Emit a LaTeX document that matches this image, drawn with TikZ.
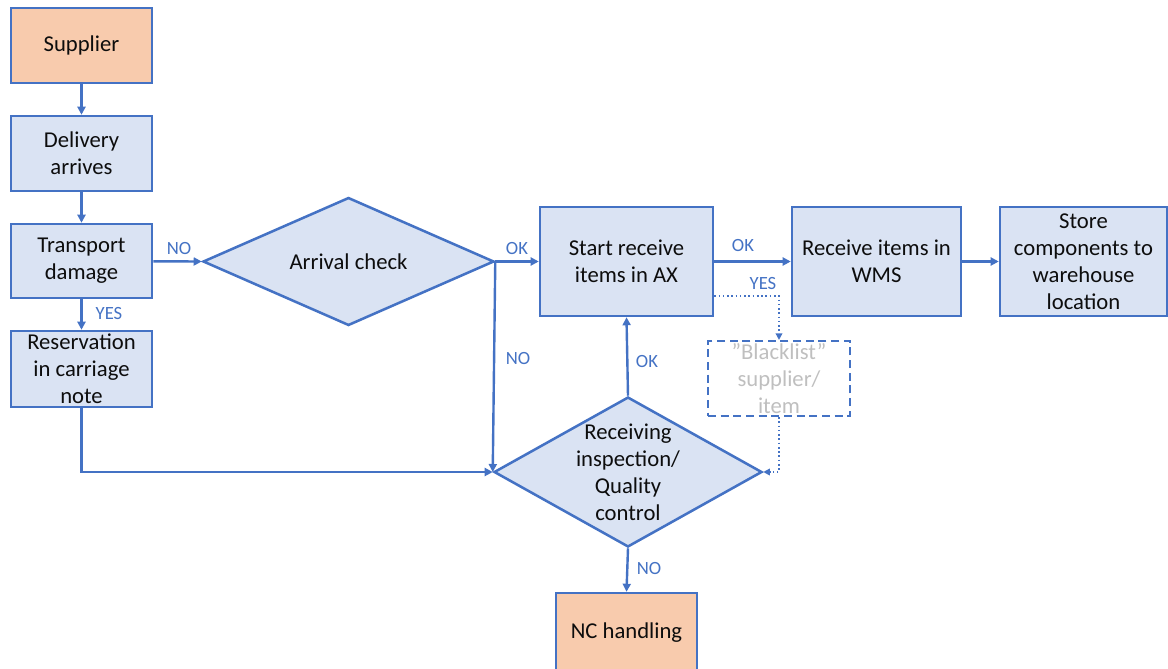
\documentclass[tikz,border=0pt]{standalone}
\usepackage{fontspec}
\setmainfont{Carlito}
\usetikzlibrary{arrows.meta,shapes.geometric}
\definecolor{lineblue}{HTML}{4472C4}
\definecolor{boxfill}{HTML}{DAE3F3}
\definecolor{peach}{HTML}{F8CBAD}
\definecolor{greytext}{HTML}{BFBFBF}
\definecolor{ink}{HTML}{0D0D0D}
\tikzset{
  x=0.75pt, y=-0.75pt,
  boxtext/.style={font=\fontsize{17}{20.25}\selectfont, text=ink, align=center, inner sep=0pt},
  stepbox/.style={draw=lineblue, line width=1.9pt, fill=boxfill, boxtext},
  endbox/.style={stepbox, fill=peach},
  ghostbox/.style={draw=lineblue, line width=1.6pt, dash pattern=on 6pt off 3.5pt, boxtext, text=greytext},
  decision/.style={shape=diamond, draw=lineblue, line width=1.9pt, fill=boxfill, inner sep=0pt},
  flow/.style={draw=lineblue, line width=1.8pt, -{Triangle[length=6pt,width=6pt]}},
  weakflow/.style={draw=lineblue, line width=1.2pt, dotted, -{Triangle[length=5pt,width=5pt]}},
  lbl/.style={font=\fontsize{14}{16}\selectfont, text=lineblue, inner sep=0pt},
}
\begin{document}
\begin{tikzpicture}
\useasboundingbox (0,0) rectangle (1168,668);
\clip (0,0) rectangle (1168,668);

% left column
\node[endbox,  minimum width=105.75pt, minimum height=56.25pt] (sup) at (81.5,45.5) {Supplier};
\node[stepbox, minimum width=105.75pt, minimum height=56.25pt] (del) at (81.5,153.5) {Delivery\\arrives};
\node[stepbox, minimum width=105.75pt, minimum height=55.5pt]  (tra) at (81.5,261) {Transport\\damage};
\node[stepbox, minimum width=105.75pt, minimum height=57pt]    (res) at (81.5,369) {Reservation\\in carriage\\note};

% decisions
\node[decision, minimum width=218.25pt, minimum height=96pt] (ac) at (348.5,261.5) {};
\node[boxtext] (actext) at (ac) {Arrival check};
\node[decision, minimum width=201pt, minimum height=112.5pt] (qc) at (628,472) {};
\node[boxtext] (qctext) at (qc) {Receiving\\inspection/\\Quality\\control};

% receiving chain
\node[stepbox, minimum width=129.75pt, minimum height=81.75pt] (ax)  at (626.5,261.5) {Start receive\\items in AX};
\node[stepbox, minimum width=126.75pt, minimum height=81.75pt] (wms) at (876.5,261.5) {Receive items in\\WMS};
\node[stepbox, minimum width=125.25pt, minimum height=81.75pt] (sto) at (1083.5,261.5) {Store\\components to\\warehouse\\location};

\node[ghostbox, minimum width=106.5pt, minimum height=56.25pt] (bl) at (779,378.5) {”Blacklist”\\supplier/\\item};
\node[endbox, minimum width=105.75pt, minimum height=60pt] (nc) at (626.5,633) {NC handling};

% connectors
\draw[flow] (sup) -- (del);
\draw[flow] (del) -- (tra);
\draw[flow] (tra) -- (res);
\draw[flow] (tra) -- (ac.west);
\draw[flow] (ac.east) -- (ax.west);
\draw[flow] (ac.east) -- (qc.west);
\draw[flow] (res.south) |- (qc.west);
\draw[flow] (qc.north) -- (ax.south);
\draw[flow] (ax.east) -- (wms.west);
\draw[flow] (wms.east) -- (sto.west);
\draw[flow] (qc.south) -- (nc.north);

\coordinate (ylbend) at (779,296);
\draw[weakflow] (ylbend -| ax.east) -- (ylbend) -- (bl.north);
\draw[weakflow] (bl.south) |- (qc.east);

% connector labels
\node[lbl] (l1) at (179,249) {NO};
\node[lbl] (l2) at (109,314) {YES};
\node[lbl] (l3) at (517,249) {OK};
\node[lbl] (l4) at (518,359) {NO};
\node[lbl] (l5) at (647,362) {OK};
\node[lbl] (l6) at (743,246) {OK};
\node[lbl] (l7) at (763,284) {YES};
\node[lbl] (l8) at (649,568) {NO};
\end{tikzpicture}
\end{document}
